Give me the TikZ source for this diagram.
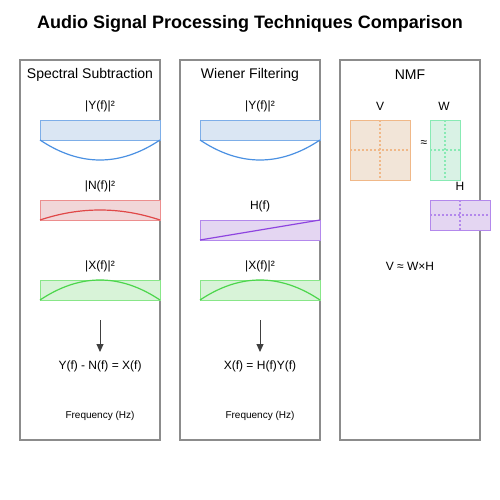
\documentclass[tikz,border=0pt]{standalone}
\usepackage{fontspec}
\setmainfont{Liberation Sans}
\usetikzlibrary{arrows.meta}
\definecolor{panelc}{HTML}{8C8C8C}
\definecolor{bfill}{HTML}{DAE6F3}
\definecolor{bline}{HTML}{7DAEE8}
\definecolor{bcurve}{HTML}{4A90E2}
\definecolor{rfill}{HTML}{F1D6D8}
\definecolor{rline}{HTML}{EC8E8E}
\definecolor{rcurve}{HTML}{E04848}
\definecolor{gfill}{HTML}{D8F3D8}
\definecolor{gline}{HTML}{88E688}
\definecolor{gcurve}{HTML}{4CD64C}
\definecolor{pfill}{HTML}{E4D6F2}
\definecolor{pline}{HTML}{B388EC}
\definecolor{pcurve}{HTML}{8E44E0}
\definecolor{ofill}{HTML}{F2E5D8}
\definecolor{oline}{HTML}{F0B888}
\definecolor{wfill}{HTML}{D9F2E5}
\definecolor{wline}{HTML}{88EAB4}
\tikzset{
  panel/.style={draw=panelc, line width=1.2pt},
  ttl/.style={font=\fontsize{18}{20}\selectfont\bfseries},
  ptitle/.style={font=\fontsize{14}{16}\selectfont},
  lbl/.style={font=\fontsize{12}{14}\selectfont},
  small/.style={font=\fontsize{10}{12}\selectfont},
  spec/.style={line width=1pt},
  curve/.style={line width=1.2pt},
  grid/.style={dash pattern=on 2pt off 2pt, line width=1.5pt},
  arr/.style={draw=black!75, line width=1pt, -{Triangle[length=8pt,width=7pt]}},
}
\begin{document}
\begin{tikzpicture}[x=1pt,y=-1pt]
\useasboundingbox (0,0) rectangle (500,500);
\node[ttl] (title) at (250,24) {Audio Signal Processing Techniques Comparison};

% panels
\draw[panel] (20,60) rectangle (160,440);
\draw[panel] (180,60) rectangle (320,440);
\draw[panel] (340,60) rectangle (480,440);

% ---------- Spectral Subtraction
\node[ptitle] (t1) at (90,75) {Spectral Subtraction};
\node[lbl] (ly1) at (100,106) {|Y(f)|²};
\draw[spec, draw=bline, fill=bfill] (40,120) rectangle (160,140);
\draw[curve, bcurve] (40,140) .. controls (80,166.67) and (120,166.67) .. (160,140);
\node[lbl] (ln1) at (100,186) {|N(f)|²};
\draw[spec, draw=rline, fill=rfill] (40,200) rectangle (160,220);
\draw[curve, rcurve] (40,220) .. controls (80,206.67) and (120,206.67) .. (160,220);
\node[lbl] (lx1) at (100,266) {|X(f)|²};
\draw[spec, draw=gline, fill=gfill] (40,280) rectangle (160,300);
\draw[curve, gcurve] (40,300) .. controls (80,273.33) and (120,273.33) .. (160,300);
\coordinate (a1s) at (100,320);
\coordinate (a1e) at (100,352);
\draw[arr] (a1s) -- (a1e);
\node[lbl] (eq1) at (100,366) {Y(f) - N(f) = X(f)};
\node[small] (f1) at (100,416) {Frequency (Hz)};

% ---------- Wiener Filtering
\node[ptitle] (t2) at (250,75) {Wiener Filtering};
\node[lbl] (ly2) at (260,106) {|Y(f)|²};
\draw[spec, draw=bline, fill=bfill] (200,120) rectangle (320,140);
\draw[curve, bcurve] (200,140) .. controls (240,166.67) and (280,166.67) .. (320,140);
\node[lbl] (lh2) at (260,206) {H(f)};
\draw[spec, draw=pline, fill=pfill] (200,220) rectangle (320,240);
\draw[curve, pcurve] (200,240) -- (320,220);
\node[lbl] (lx2) at (260,266) {|X(f)|²};
\draw[spec, draw=gline, fill=gfill] (200,280) rectangle (320,300);
\draw[curve, gcurve] (200,300) .. controls (240,273.33) and (280,273.33) .. (320,300);
\coordinate (a2s) at (260,320);
\coordinate (a2e) at (260,352);
\draw[arr] (a2s) -- (a2e);
\node[lbl] (eq2) at (260,366) {X(f) = H(f)Y(f)};
\node[small] (f2) at (260,416) {Frequency (Hz)};

% ---------- NMF
\node[ptitle] (t3) at (410,75) {NMF};
\node[lbl] (lv) at (380,106) {V};
\node[lbl] (lw) at (444,106) {W};
\draw[spec, draw=oline, fill=ofill] (350,120) rectangle (410,180);
\draw[grid, oline] (380,120) -- (380,180);
\draw[grid, oline] (350,150) -- (410,150);
\node[lbl] (approx) at (424,144) {≈};
\draw[spec, draw=wline, fill=wfill] (430,120) rectangle (460,180);
\draw[grid, wline] (445,120) -- (445,180);
\draw[grid, wline] (430,150) -- (460,150);
\node[lbl] (lhh) at (460,186) {H};
\draw[spec, draw=pline, fill=pfill] (430,200) rectangle (490,230);
\draw[grid, pline] (460,200) -- (460,230);
\draw[grid, pline] (430,215) -- (490,215);
\node[lbl] (eq3) at (410,266) {V ≈ W×H};
\end{tikzpicture}
\end{document}
